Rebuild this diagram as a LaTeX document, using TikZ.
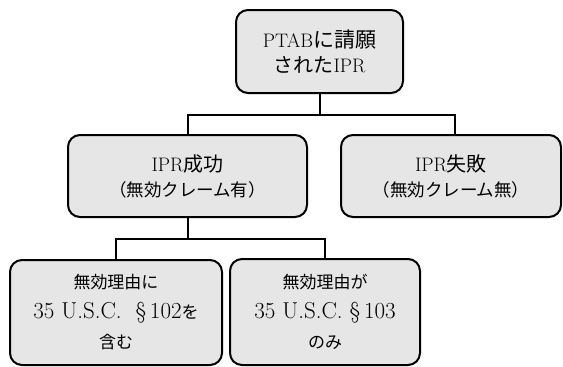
\documentclass[tikz,border=0pt]{standalone}
\usepackage{fontspec}
\usetikzlibrary{calc}
\setmainfont{Latin Modern Roman}[Scale=1.15]
\newfontfamily\cjk{Noto Sans CJK JP}
\newcommand\ja[1]{{\cjk #1}}
\newcommand\jas[2]{{\fontsize{#1}{#1}\selectfont\cjk #2}}
\newcommand\biglatin[1]{{\fontsize{20}{30}\selectfont #1}}
\definecolor{boxfill}{RGB}{230,230,230}
\tikzset{
  box/.style={draw=black, line width=2pt, rounded corners=12pt, fill=boxfill,
    align=center, inner sep=0pt, font=\fontsize{17}{25}\selectfont},
  conn/.style={draw=black, line width=2pt}
}
\begin{document}
\begin{tikzpicture}[x=1pt,y=-1pt]
\useasboundingbox (0,0) rectangle (563,367);
\node[box, minimum width=167pt, minimum height=83pt] (top) at (319.5,51.5)
  {PTAB\jas{21}{に請願}\\\jas{20}{された}IPR};
\node[box, minimum width=239pt, minimum height=82pt] (ml) at (187.5,176)
  {IPR\jas{20}{成功}\\\jas{17.5}{（無効クレーム有）}};
\node[box, minimum width=220pt, minimum height=82pt] (mr) at (451,176)
  {IPR\jas{20}{失敗}\\\jas{17.5}{（無効クレーム無）}};
\node[box, minimum width=212pt, minimum height=105pt, font=\fontsize{17}{30}\selectfont] (bl) at (116,312.5)
  {\ja{無効理由に}\\\biglatin{35 U.S.C.\ \ \S\,102}\ja{を}\\\ja{含む}};
\node[box, minimum width=190pt, minimum height=106pt, font=\fontsize{17}{30}\selectfont] (br) at (325,312)
  {\ja{無効理由が}\\\biglatin{35 U.S.C. \S\,103}\\\ja{のみ}};
\coordinate (bus1) at (0,114.5);
\coordinate (bus2) at (0,238.5);
\coordinate (mrin) at ($(mr.north)+(3.5,0)$);
\draw[conn] (top.south) -- (top.south |- bus1);
\draw[conn] (ml.north) |- (mrin |- bus1) -- (mrin);
\draw[conn] (ml.south) -- (ml.south |- bus2);
\draw[conn] (bl.north) |- (br.north |- bus2) -- (br.north);
\end{tikzpicture}
\end{document}
